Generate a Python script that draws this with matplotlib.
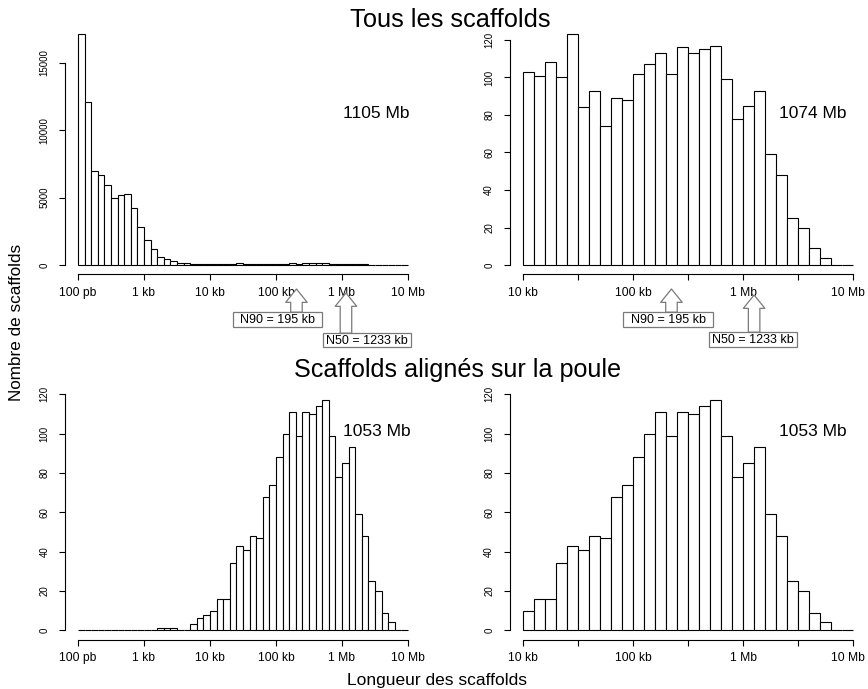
import matplotlib
matplotlib.use("Agg")
import matplotlib.pyplot as plt
from matplotlib.patches import FancyArrowPatch, Rectangle
from matplotlib.transforms import blended_transform_factory, ScaledTranslation
import numpy as np

plt.rcParams['font.family'] = ['Liberation Sans', 'DejaVu Sans']

# ---------------- data (log10 bin starts, width 0.1 decade) ----------------
bin_width = 0.1
left_bins = np.round(np.arange(2.0, 7.0, 0.1), 1)   # 100 pb .. 10 Mb
right_bins = np.round(np.arange(4.0, 7.0, 0.1), 1)  # 10 kb .. 10 Mb

# all scaffolds >= 10 kb (also top-left from 10 kb on)
all_10kb = [103, 101, 108, 100, 123, 84, 93, 74, 89, 88,
            102, 107, 113, 102, 116, 113, 115, 117, 99, 78,
            85, 93, 59, 48, 25, 20, 9, 4, 0, 0]
# all scaffolds, 100 pb .. 10 kb
all_small = [17100, 12100, 7000, 6650, 5950, 5000, 5180, 5230, 4200, 2800,
             1830, 1170, 590, 420, 300, 170, 130, 110, 100, 95]
tous_counts = all_small + all_10kb

# scaffolds aligned on chicken, >= 10 kb
aligned_10kb = [10, 16, 16, 34, 43, 41, 48, 47, 68, 74,
                88, 100, 111, 99, 111, 110, 114, 117, 99, 78,
                85, 93, 59, 48, 25, 20, 9, 4, 0, 0]
aligned_small = [0, 0, 0, 0, 0, 0, 0, 0, 0, 0,
                 0, 0, 1, 1, 1, 0, 0, 3, 6, 8]
aligned_counts = aligned_small + aligned_10kb

left_ticks = [2, 3, 4, 5, 6, 7]
left_labels = ["100 pb", "1 kb", "10 kb", "100 kb", "1 Mb", "10 Mb"]
right_ticks = [4, 4.5, 5, 5.5, 6, 6.5, 7]
right_labels = ["10 kb", "", "100 kb", "", "1 Mb", "", "10 Mb"]
y_ticks_big = [0, 5000, 10000, 15000]
y_ticks_small = [0, 20, 40, 60, 80, 100, 120]

totals = ["1105 Mb", "1074 Mb", "1053 Mb", "1053 Mb"]
n90_value = "N90 = 195 kb"
n50_value = "N50 = 1233 kb"
n90_left, n50_left = 5.31, 6.06
n90_right, n50_right = 5.35, 6.10

# ---------------- layout ----------------
W, H = 868, 689
fig = plt.figure(figsize=(W / 100, H / 100), dpi=100)


def fx(px):
    return px / W


def fy(py):
    return 1 - py / H


def make_ax(xlo_px, xhi_px, xlim, zero_px, ppu, ymax):
    bottom_px = zero_px + 0.04 * ymax * ppu
    top_px = zero_px - 1.04 * ymax * ppu
    ax = fig.add_axes([fx(xlo_px), fy(bottom_px), fx(xhi_px - xlo_px),
                       (bottom_px - top_px) / H])
    ax.set_xlim(*xlim)
    ax.set_ylim(-0.04 * ymax, 1.04 * ymax)
    ax.patch.set_alpha(0)
    for s in ['top', 'right']:
        ax.spines[s].set_visible(False)
    for s in ['left', 'bottom']:
        ax.spines[s].set_linewidth(0.8)
    ax.tick_params(axis='both', length=4, width=0.8, color='black')
    ax.tick_params(axis='x', pad=5, labelsize=8.7)
    ax.tick_params(axis='y', pad=7, labelsize=7)
    return ax


# pixel mapping of each panel (left px of xlim, right px, zero px, px/unit)
axTL = make_ax(64.8, 421.2, (1.8, 7.2), 265.0, (265 - 62.7) / 15000, max(tous_counts))
axTR = make_ax(509.5, 866.5, (3.88, 7.12), 265.0, 1.875, max(all_10kb))
axBL = make_ax(64.8, 421.2, (1.8, 7.2), 630.3, 1.967, max(aligned_counts))
axBR = make_ax(509.5, 866.5, (3.88, 7.12), 630.3, 1.967, max(aligned_10kb))

panels = [
    (axTL, left_bins, tous_counts, left_ticks, left_labels, y_ticks_big),
    (axTR, right_bins, all_10kb, right_ticks, right_labels, y_ticks_small),
    (axBL, left_bins, aligned_counts, left_ticks, left_labels, y_ticks_small),
    (axBR, right_bins, aligned_10kb, right_ticks, right_labels, y_ticks_small),
]
for ax, bins, counts, xt, xl, yt in panels:
    ax.bar(bins, counts, width=bin_width, align='edge', facecolor='white',
           edgecolor='black', linewidth=0.8)
    ax.set_xticks(xt)
    ax.set_xticklabels(xl)
    ax.set_yticks(yt)
    ax.set_yticklabels([str(v) for v in yt], rotation=90, va='center')
    ax.spines['bottom'].set_bounds(xt[0], xt[-1])
    ax.spines['left'].set_bounds(yt[0], yt[-1])

# keep the right-most "10 Mb" labels of the right panels inside the figure
for ax in (axTR, axBR):
    lab = ax.get_xticklabels()[-1]
    lab.set_transform(lab.get_transform() +
                      ScaledTranslation(-4 / 72, 0, fig.dpi_scale_trans))

# ---------------- texts ----------------
fig.text(fx(450), fy(26.7), "Tous les scaffolds", ha='center', va='baseline',
         fontsize=18.3)
fig.text(fx(457), fy(377), "Scaffolds alignés sur la poule", ha='center',
         va='baseline', fontsize=18.1)
fig.text(fx(17), fy(322), "Nombre de scaffolds", rotation=90, ha='center',
         va='center', fontsize=12.3)
fig.text(fx(437), fy(680), "Longueur des scaffolds", ha='center', va='center',
         fontsize=12.5)

for (px, py), t in zip([(376.5, 113), (812.5, 114), (376.5, 432), (812.5, 432)],
                       totals):
    fig.text(fx(px), fy(py), t, ha='center', va='center', fontsize=12.5)


# ---------------- N90 / N50 arrows ----------------
EDGE = '#7a7a7a'


def block_arrow(ax, xval, tip_py, label, box):
    x0, x1, y0, y1 = box  # box in pixels (left, right, top, bottom)
    tr = blended_transform_factory(ax.transData, fig.transFigure)
    arr = FancyArrowPatch((xval, fy(y0 + 0.5)), (xval, fy(tip_py)),
                          transform=tr,
                          arrowstyle="simple,head_length=9.6,head_width=15.5,tail_width=8.3",
                          mutation_scale=1, shrinkA=0, shrinkB=0,
                          facecolor='white', edgecolor=EDGE,
                          linewidth=0.9, zorder=5)
    fig.add_artist(arr)
    rect = Rectangle((fx(x0), fy(y1)), fx(x1 - x0), (y1 - y0) / H,
                     transform=fig.transFigure, facecolor='white',
                     edgecolor=EDGE, linewidth=0.9, zorder=6)
    fig.add_artist(rect)
    fig.text(fx((x0 + x1) / 2), fy((y0 + y1) / 2 + 0.5), label, ha='center',
             va='center', fontsize=9.0, zorder=7)


block_arrow(axTL, n90_left, 289, n90_value, (232.7, 321.7, 311.7, 326.7))
block_arrow(axTL, n50_left, 293, n50_value, (323.3, 410.7, 332.7, 347.3))
block_arrow(axTR, n90_right, 289, n90_value, (623.3, 713.3, 311.7, 326.7))
block_arrow(axTR, n50_right, 295, n50_value, (709.0, 797.3, 331.7, 346.7))

fig.savefig("out.png", dpi=100)
